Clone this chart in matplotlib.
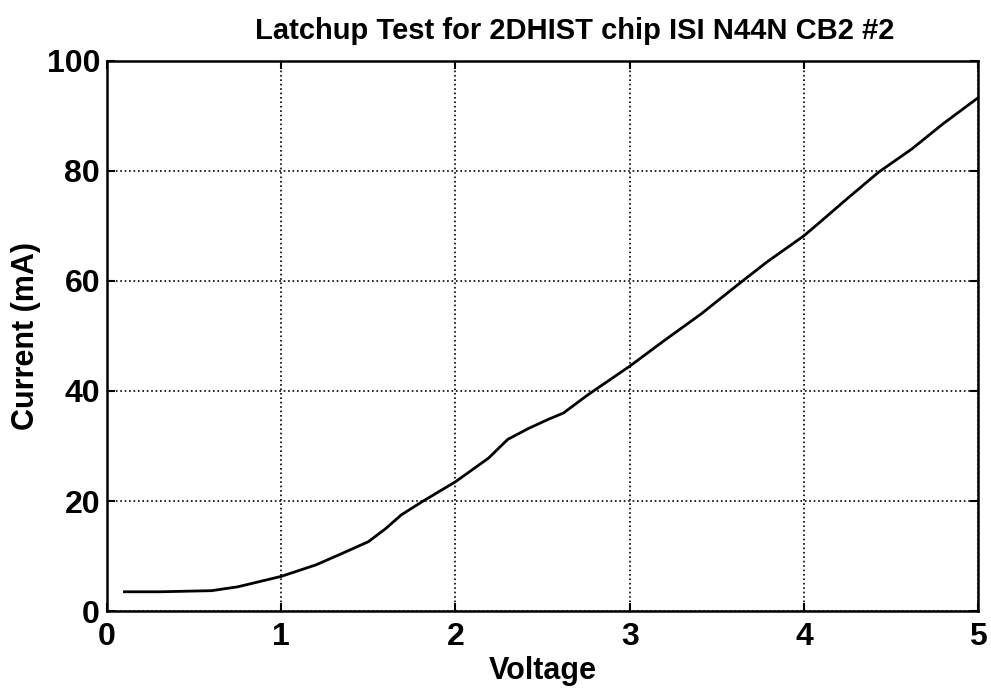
import matplotlib
matplotlib.use('Agg')
import matplotlib.pyplot as plt
import numpy as np

# Latchup test data
voltage = [0.1, 0.3, 0.6, 0.75, 1.0, 1.2, 1.33, 1.5, 1.6, 1.69, 1.81, 2.0, 2.19,
           2.3, 2.42, 2.53, 2.62, 2.76, 3.0, 3.2, 3.41, 3.62, 3.79, 4.0, 4.1,
           4.25, 4.43, 4.62, 4.8, 5.0]
current = [3.5, 3.5, 3.7, 4.4, 6.3, 8.4, 10.2, 12.6, 15.0, 17.5, 19.9, 23.5, 27.8,
           31.2, 33.2, 34.8, 36.0, 39.3, 44.5, 49.2, 54.0, 59.3, 63.5, 68.2, 70.9,
           75.0, 79.8, 84.0, 88.6, 93.3]

plt.rcParams['font.family'] = ['Liberation Sans', 'DejaVu Sans']
plt.rcParams['font.weight'] = 'bold'

fig = plt.figure(figsize=(9.91, 6.92), dpi=100)
ax = fig.add_axes([0.108, 0.117, 0.879, 0.795])

ax.plot(voltage, current, color='black', linewidth=2.0)

ax.set_xlim(0, 5)
ax.set_ylim(0, 100)
ax.set_xticks([0, 1, 2, 3, 4, 5])
ax.set_yticks([0, 20, 40, 60, 80, 100])
ax.grid(True, color='black', linestyle=':', linewidth=1.2)
ax.tick_params(direction='in', length=6, width=1.5, top=True, right=True,
               labelsize=23, pad=5)
ax.tick_params(axis='x', pad=8)
for s in ax.spines.values():
    s.set_linewidth(1.8)

ax.set_xlabel('Voltage', fontsize=22, fontweight='bold', labelpad=3)
ax.set_ylabel('Current (mA)', fontsize=22, fontweight='bold', labelpad=4)
ax.set_title('Latchup Test for 2DHIST chip ISI N44N CB2 #2', fontsize=21,
             fontweight='bold', pad=16, x=0.537)

fig.savefig('out.png', dpi=100)
